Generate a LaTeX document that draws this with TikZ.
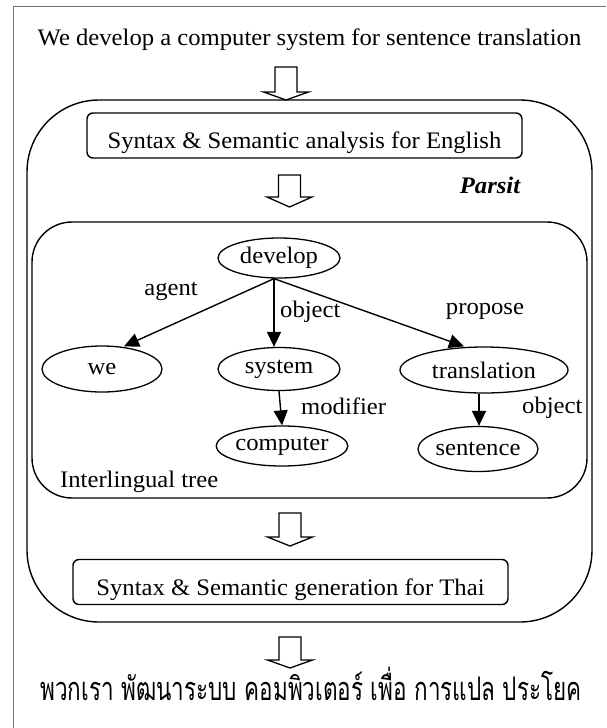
\documentclass[tikz,border=0pt]{standalone}
\usepackage{fontspec}
\setmainfont{Liberation Serif}[FakeStretch=1.04]
\newfontfamily\thaifont[Script=Thai]{Loma}
\usetikzlibrary{arrows.meta,shapes.geometric}
\newcommand\hollowarrow[4]{%
  \draw[blockarrow] (#1-11,#2) -- (#1+11,#2) -- (#1+11,#3) -- (#1+22.5,#3) -- (#1,#4) -- (#1-22.5,#3) -- (#1-11,#3) -- cycle;}
\begin{document}
\begin{tikzpicture}[x=1pt,y=-1pt,
  every node/.style={font=\fontsize{23.7}{28}\selectfont, inner sep=0pt},
  framestyle/.style={draw=black!55, line width=0.9pt},
  bigbox/.style={draw=black, line width=1.4pt},
  procbox/.style={draw=black, line width=1.4pt, rounded corners=6pt, minimum width=435pt, minimum height=45pt, text height=26pt, text depth=0pt},
  wordnode/.style={draw=black, ellipse, line width=1.3pt, inner sep=0pt},
  treearrow/.style={line width=1.4pt, -{Triangle[length=15pt,width=14pt]}},
  blockarrow/.style={draw=black, line width=1.3pt, fill=white, line join=miter}
]
\useasboundingbox (0,0) rectangle (606,728);
\fill[white] (0,0) rectangle (606,728);
% page frame
\draw[framestyle] (13,728) -- (13,6) -- (606,6);

% top sentence
\node[anchor=base] (src) at (309.5,45) {We develop a computer system for sentence translation};

% Parsit outer box
\draw[bigbox, rounded corners=72pt] (27,100) rectangle (592,622);
\node[anchor=base] (parsit) at (490,193) {\bfseries\itshape Parsit};

% analysis / generation boxes
\node[procbox] (eng) at (304.5,135.5) {Syntax \& Semantic analysis for English};
\node[procbox] (thaigen) at (290.5,582) {Syntax \& Semantic generation for Thai};

% interlingual tree box
\draw[bigbox, rounded corners=40pt] (32,222) rectangle (587,498);
\node[anchor=base west] (itree) at (60,487) {Interlingual tree};

% block arrows
\hollowarrow{286}{67}{92}{100}
\hollowarrow{289.5}{175}{197}{207}
\hollowarrow{290}{513}{537}{546}
\hollowarrow{290}{637}{660}{668}

% tree nodes
\node[wordnode, minimum width=122pt, minimum height=40pt] (develop) at (279,258) {develop};
\node[wordnode, minimum width=120pt, minimum height=46pt] (we) at (102,369) {we};
\node[wordnode, minimum width=122pt, minimum height=43pt] (system) at (279,369) {system};
\node[wordnode, minimum width=168pt, minimum height=46pt] (translation) at (484,370) {translation};
\node[wordnode, minimum width=122pt, minimum height=40pt] (computer) at (282,446) {computer};
\node[wordnode, minimum width=120pt, minimum height=45pt] (sentence) at (478,449) {sentence};

% tree edges
\coordinate (dbot) at ([xshift=-5pt]develop.south);
\draw[treearrow] (dbot) -- ([xshift=22pt,yshift=-1pt]we.north);
\draw[treearrow] (dbot) -- (dbot |- system.north);
\draw[treearrow] (dbot) -- ([xshift=-20pt]translation.north);
\draw[treearrow] (system.south) -- (computer.north);
\draw[treearrow] ([xshift=-5pt]translation.south) -- ([xshift=-5pt]translation.south |- sentence.north);

% edge labels
\node (lagent) at (171,291) {agent};
\node[anchor=west] (lobj1) at (280,312) {object};
\node (lprop) at (485,311) {propose};
\node[anchor=west] (lmod) at (301,406) {modifier};
\node[anchor=west] (lobj2) at (522,408) {object};

% Thai output
\node[anchor=base] (thai) at (311,700) {\resizebox{541pt}{1.25\height}{\thaifont\fontsize{26}{30}\selectfont พวกเรา พัฒนาระบบ คอมพิวเตอร์ เพื่อ การแปล ประโยค}};
\end{tikzpicture}
\end{document}
